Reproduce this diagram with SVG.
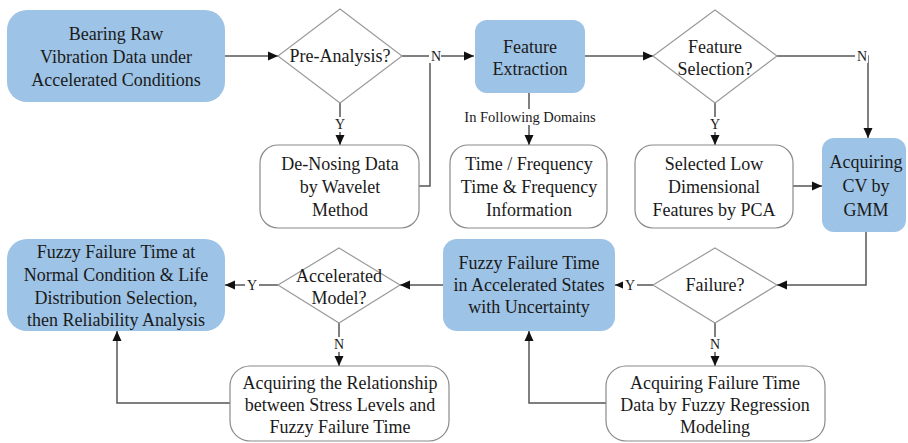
<svg xmlns="http://www.w3.org/2000/svg" width="908" height="443" viewBox="0 0 908 443">
<defs>
<marker id="ah" viewBox="0 0 10 10" refX="10" refY="5" markerWidth="10" markerHeight="10" markerUnits="userSpaceOnUse" orient="auto">
<path d="M0,0.5 L10,5 L0,9.5 Z" fill="#111"/>
</marker>
</defs>
<style>
.blue{fill:#9DC3E6;stroke:none}
.white{fill:#fff;stroke:#8a8a8a;stroke-width:1.2}
.dia{fill:#fff;stroke:#9a9a9a;stroke-width:1.2}
.t{font-family:"Liberation Serif","Times New Roman",serif;font-size:18px;fill:#1a1a1a;text-anchor:middle}
.s{font-family:"Liberation Serif","Times New Roman",serif;font-size:14.5px;fill:#1a1a1a;text-anchor:middle}
.l{font-family:"Liberation Serif","Times New Roman",serif;font-size:14px;fill:#1a1a1a;text-anchor:middle}
.c{fill:none;stroke:#555;stroke-width:1.5}
.ca{fill:none;stroke:#555;stroke-width:1.5;marker-end:url(#ah)}
.lb{fill:#fff}
</style>
<g id="connectors">
<path class="ca" d="M225,56 H278"/>
<path class="ca" d="M340,103 V145"/>
<path class="c" d="M402,56 H430"/>
<path class="c" d="M419,186 H430 V56"/>
<path class="ca" d="M430,56 H474"/>
<path class="ca" d="M585,56 H653"/>
<path class="ca" d="M529,93 V145"/>
<path class="ca" d="M715,103 V145"/>
<path class="ca" d="M777,56 H868 V138"/>
<path class="ca" d="M793,186 H822"/>
<path class="ca" d="M866,232 V285 H777"/>
<path class="ca" d="M653,285 H615"/>
<path class="ca" d="M715,323 V366"/>
<path class="ca" d="M606,403 H529 V331"/>
<path class="ca" d="M443,285 H400"/>
<path class="ca" d="M278,285 H225"/>
<path class="ca" d="M339,323 V366"/>
<path class="ca" d="M230,403 H117 V331"/>
<rect class="lb" x="429" y="49" width="12" height="14"/>
<text class="l" x="436" y="61">N</text>
<rect class="lb" x="855" y="49" width="13" height="14"/>
<text class="l" x="862" y="61">N</text>
<rect class="lb" x="333" y="117" width="14" height="15"/>
<text class="l" x="340" y="129">Y</text>
<rect class="lb" x="708" y="117" width="14" height="15"/>
<text class="l" x="715" y="129">Y</text>
<rect class="lb" x="461" y="109" width="138" height="16"/>
<text class="s" x="530" y="122">In Following Domains</text>
<rect class="lb" x="623" y="278" width="14" height="15"/>
<text class="l" x="630" y="290">Y</text>
<rect class="lb" x="708" y="337" width="14" height="15"/>
<text class="l" x="715" y="349">N</text>
<rect class="lb" x="245" y="278" width="14" height="15"/>
<text class="l" x="252" y="290">Y</text>
<rect class="lb" x="332" y="337" width="14" height="15"/>
<text class="l" x="339" y="349">N</text>
</g>
<g id="n-raw">
<rect class="blue" x="7" y="10" width="218" height="92" rx="20"/>
<text class="t" x="116" y="40">Bearing Raw</text>
<text class="t" x="116" y="63">Vibration Data under</text>
<text class="t" x="116" y="86">Accelerated Conditions</text>
</g>
<g id="n-pre">
<path class="dia" d="M340,9 L402,56 L340,103 L278,56 Z"/>
<text class="t" x="340" y="62">Pre-Analysis?</text>
</g>
<g id="n-denoise">
<rect class="white" x="260" y="145" width="159" height="83" rx="18"/>
<text class="t" x="340" y="170">De-Nosing Data</text>
<text class="t" x="340" y="193">by Wavelet</text>
<text class="t" x="340" y="216">Method</text>
</g>
<g id="n-fe">
<rect class="blue" x="475" y="20" width="110" height="73" rx="12"/>
<text class="t" x="530" y="53">Feature</text>
<text class="t" x="530" y="75">Extraction</text>
</g>
<g id="n-domains">
<rect class="white" x="450" y="145" width="157" height="83" rx="18"/>
<text class="t" x="529" y="170">Time / Frequency</text>
<text class="t" x="529" y="193">Time &amp; Frequency</text>
<text class="t" x="529" y="216">Information</text>
</g>
<g id="n-fs">
<path class="dia" d="M715,10 L777,56 L715,103 L653,56 Z"/>
<text class="t" x="715" y="53">Feature</text>
<text class="t" x="715" y="75">Selection?</text>
</g>
<g id="n-pca">
<rect class="white" x="635" y="145" width="158" height="83" rx="18"/>
<text class="t" x="714" y="170">Selected Low</text>
<text class="t" x="714" y="193">Dimensional</text>
<text class="t" x="714" y="216">Features by PCA</text>
</g>
<g id="n-cv">
<rect class="blue" x="822" y="138" width="84" height="94" rx="12"/>
<text class="t" x="866" y="168">Acquiring</text>
<text class="t" x="866" y="192">CV by</text>
<text class="t" x="866" y="216">GMM</text>
</g>
<g id="n-failure">
<path class="dia" d="M715,248 L777,285 L715,323 L653,285 Z"/>
<text class="t" x="715" y="291">Failure?</text>
</g>
<g id="n-fuzzy-acc">
<rect class="blue" x="443" y="239" width="172" height="92" rx="14"/>
<text class="t" x="529" y="269">Fuzzy Failure Time</text>
<text class="t" x="529" y="291">in Accelerated States</text>
<text class="t" x="529" y="313">with Uncertainty</text>
</g>
<g id="n-regression">
<rect class="white" x="606" y="366" width="219" height="75" rx="20"/>
<text class="t" x="715" y="389">Acquiring Failure Time</text>
<text class="t" x="715" y="411">Data by Fuzzy Regression</text>
<text class="t" x="715" y="433">Modeling</text>
</g>
<g id="n-accmodel">
<path class="dia" d="M339,248 L400,285 L339,323 L278,285 Z"/>
<text class="t" x="339" y="282">Accelerated</text>
<text class="t" x="339" y="304">Model?</text>
</g>
<g id="n-normal">
<rect class="blue" x="7" y="239" width="218" height="92" rx="20"/>
<text class="t" x="116" y="258">Fuzzy Failure Time at</text>
<text class="t" x="116" y="281">Normal Condition &amp; Life</text>
<text class="t" x="116" y="304">Distribution Selection,</text>
<text class="t" x="116" y="326">then Reliability Analysis</text>
</g>
<g id="n-relation">
<rect class="white" x="230" y="366" width="219" height="75" rx="20"/>
<text class="t" x="340" y="389">Acquiring the Relationship</text>
<text class="t" x="340" y="411">between Stress Levels and</text>
<text class="t" x="340" y="433">Fuzzy Failure Time</text>
</g>
</svg>
